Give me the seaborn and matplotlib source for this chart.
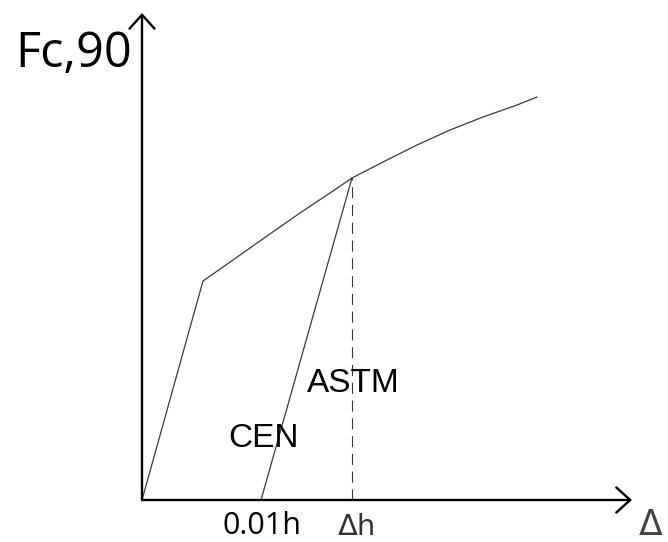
import pandas as pd
import matplotlib
matplotlib.use('Agg')
import matplotlib.pyplot as plt
import seaborn as sns

# load-deformation curve (arbitrary units)
defo = [0.0, 0.61, 0.91, 1.25, 1.58, 1.91, 2.10, 2.41, 2.75, 3.08, 3.41, 3.75, 3.95]
force = [0.0, 2.19, 2.40, 2.64, 2.87, 3.09, 3.22, 3.38, 3.55, 3.70, 3.83, 3.95, 4.03]

# offset line parallel to initial slope (0.01h offset) up to the curve
offset_x = [1.19, 2.10]
offset_y = [0.0, 3.22]

# dashed drop line at delta h
dh_x = [2.10, 2.10]
dh_y = [0.0, 3.22]

x_end, y_end = 4.90, 4.87

sns.set_style('white')
plt.rcParams['font.family'] = ['Open Sans', 'DejaVu Sans']

fig = plt.figure(figsize=(6.68, 5.42), dpi=100)
ax = fig.add_axes([0, 0, 1, 1])

curve = pd.DataFrame({'x': defo, 'y': force})
sns.lineplot(data=curve, x='x', y='y', sort=False, color='#3a3a3a', lw=0.9, ax=ax)
sns.lineplot(x=offset_x, y=offset_y, sort=False, color='#3a3a3a', lw=0.9, ax=ax)
ax.plot(dh_x, dh_y, color='#3a3a3a', lw=0.8, linestyle=(0, (10, 6)))

# axes with open arrow heads
arrow = dict(arrowstyle='->,head_length=1.0,head_width=0.9', lw=1.7, color='black',
             shrinkA=0, shrinkB=0)
ax.annotate('', xy=(x_end, 0), xytext=(0, 0), arrowprops=arrow)
ax.annotate('', xy=(0, y_end), xytext=(0, 0), arrowprops=arrow)

ax.text(-1.27, 4.33, 'Fc,90', fontsize=35, ha='left', va='baseline', color='black')
ax.text(0.80, -0.345, '0.01h', fontsize=22, ha='left', va='baseline', color='black')
ax.text(1.96, -0.35, '\u0394h', fontsize=21, ha='left', va='baseline', color='#333333',
        family=['DejaVu Sans'])
ax.text(4.97, -0.08, '\u0394', fontsize=25, ha='left', va='top', color='#444444',
        family=['DejaVu Sans'])
ax.text(0.86, 0.53, 'CEN', fontsize=24, ha='left', va='baseline', family='Liberation Sans',
        color='black')
ax.text(1.65, 1.08, 'ASTM', fontsize=24, ha='left', va='baseline', family='Liberation Sans',
        color='black')

ax.set_xlim(-1.42, 5.26)
ax.set_ylim(-0.42, 5.00)
ax.axis('off')

fig.savefig('out.png', dpi=100)
